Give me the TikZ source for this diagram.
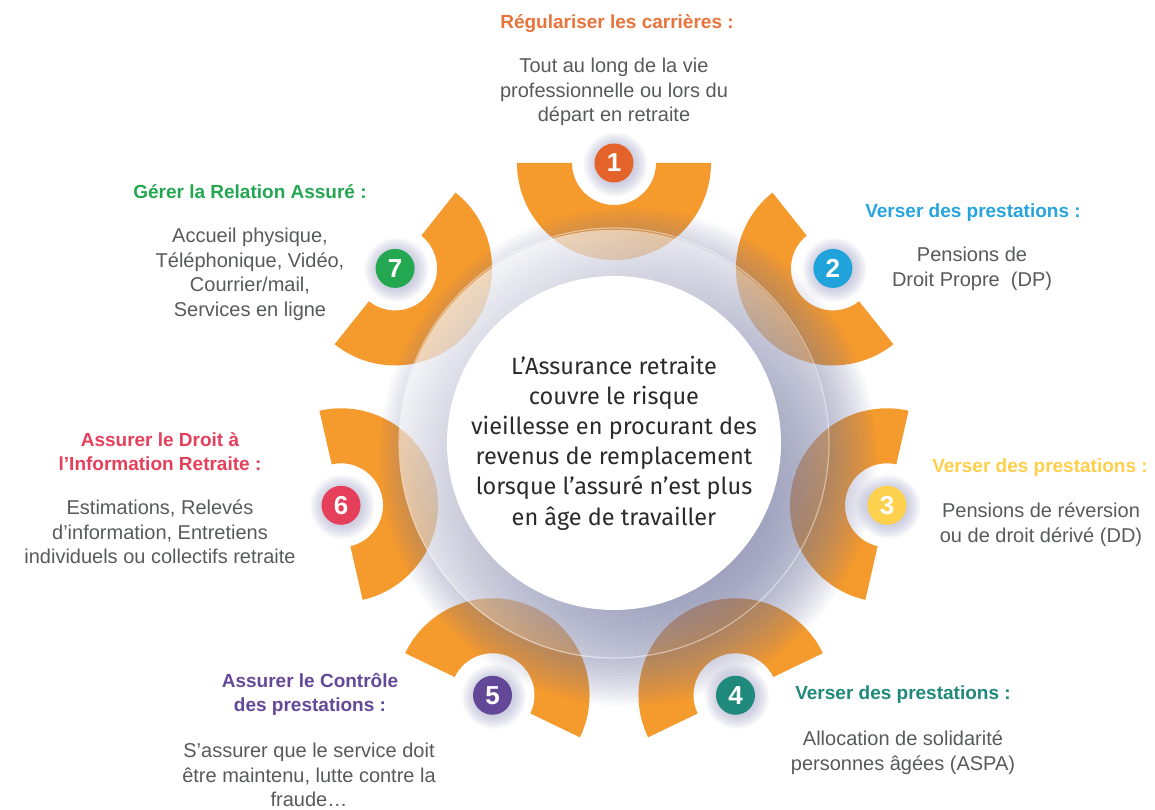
\documentclass[tikz,border=0pt]{standalone}
\usepackage{fontspec}
\setmainfont{Liberation Sans}
\newfontfamily\centerfont{Fira Sans}
\usetikzlibrary{calc,fadings}
\definecolor{seg}{HTML}{F59A2C}
\definecolor{shadowc}{HTML}{767AA2}
\definecolor{haloc}{HTML}{9A9CC0}
\definecolor{txt}{HTML}{58595B}
\definecolor{ctxt}{HTML}{2B2B2B}
\definecolor{c1}{HTML}{E4632A}
\definecolor{c2}{HTML}{1FA3DA}
\definecolor{c3}{HTML}{FDD04E}
\definecolor{c4}{HTML}{1F897B}
\definecolor{c5}{HTML}{634898}
\definecolor{c6}{HTML}{E53F5A}
\definecolor{c7}{HTML}{23A750}
\definecolor{h1}{HTML}{E8743B}
\definecolor{h2}{HTML}{27A4DD}
\definecolor{h3}{HTML}{FFCF4A}
\tikzfading[name=glassfade, top color=transparent!35, bottom color=transparent!100]
\tikzset{
  title/.style={align=center, inner sep=0pt, font=\bfseries\fontsize{19}{24}\selectfont},
  body/.style={align=center, inner sep=0pt, text=txt, font=\fontsize{20}{24.5}\selectfont},
  badge/.style={circle, inner sep=0pt, minimum size=39pt, text=white, font=\bfseries\fontsize{26}{26}\selectfont},
}
\begin{document}
\begin{tikzpicture}[x=1pt,y=1pt]
\useasboundingbox (0,0) rectangle (1155,809);
\coordinate (C) at (614,366);
% orange half-rings
\foreach \k in {1,...,7} {
  \pgfmathsetmacro\ang{90-51.428571*(\k-1)}
  \coordinate (p\k) at ($(C)+(\ang:280)$);
  \fill[seg] ($(p\k)+(\ang+90:97)$) arc[start angle=\ang+90, end angle=\ang+270, radius=97]
     -- ($(p\k)+(\ang-90:42)$) arc[start angle=\ang+270, end angle=\ang+90, radius=42] -- cycle;
}
% shadow around the core
\foreach \r in {150,153,...,250} {
  \fill[shadowc, opacity=0.038] ($(C)+(14,-14)$) circle (\r);
}
% glass circle
\fill[white, path fading=glassfade, fading angle=45] (C) circle (215);
\draw[white, opacity=0.45, line width=1.2pt] (C) circle (215);
% core
\node[circle, fill=white, minimum size=320pt, inner sep=0pt, align=center, text=ctxt,
  font=\centerfont\fontsize{23.5}{30.2}\selectfont] (core) at (C)
  {L’Assurance retraite\\couvre le risque\\vieillesse en procurant des\\revenus de remplacement\\lorsque l’assuré n’est plus\\en âge de travailler};
% badges
\foreach \k/\c in {1/c1,2/c2,3/c3,4/c4,5/c5,6/c6,7/c7} {
  \foreach \r in {20,21.5,...,33} {
    \fill[haloc, opacity=0.07] ($(p\k)+(1.5,-1.5)$) circle (\r);
  }
  \node[badge, fill=\c] (b\k) at (p\k) {\k};
}
% labels
\node[title, text=h1] (t1) at (617,785) {Régulariser les carrières :};
\node[body] (d1) at (614,717) {Tout au long de la vie\\professionnelle ou lors du\\départ en retraite};
\node[title, text=h2] (t2) at (973,596) {Verser des prestations :};
\node[body] (d2) at (972,540) {Pensions de\\Droit Propre~~(DP)};
\node[title, text=h3] (t3) at (1040,341) {Verser des prestations :};
\node[body] (d3) at (1041,284.5) {Pensions de réversion\\ou de droit dérivé (DD)};
\node[title, text=c4] (t4) at (903,114) {Verser des prestations :};
\node[body] (d4) at (903,56.5) {Allocation de solidarité\\personnes âgées (ASPA)};
\node[title, text=c5] (t5) at (310,114.5) {Assurer le Contrôle\\des prestations :};
\node[body] (d5) at (309,34) {S’assurer que le service doit\\être maintenu, lutte contre la\\fraude…};
\node[title, text=c6] (t6) at (160,357) {Assurer le Droit à\\l’Information Retraite :};
\node[body] (d6) at (160,277) {Estimations, Relevés\\d’information, Entretiens\\individuels ou collectifs retraite};
\node[title, text=c7] (t7) at (250,617) {Gérer la Relation Assuré :};
\node[body] (d7) at (250,534.5) {Accueil physique,\\Téléphonique, Vidéo,\\Courrier/mail,\\Services en ligne};
\end{tikzpicture}
\end{document}
